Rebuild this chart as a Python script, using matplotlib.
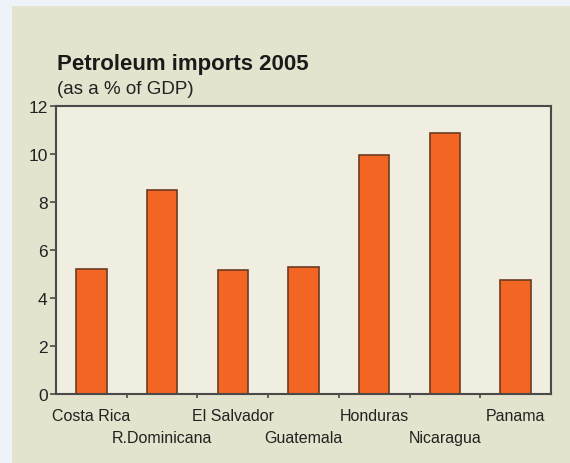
import matplotlib.pyplot as plt
from matplotlib import font_manager
from matplotlib.patches import Rectangle

countries = ["Costa Rica", "R.Dominicana", "El Salvador", "Guatemala",
             "Honduras", "Nicaragua", "Panama"]
imports_pct = [5.2, 8.5, 5.18, 5.28, 9.96, 10.86, 4.76]
y_ticks = [0, 2, 4, 6, 8, 10, 12]

installed = {f.name for f in font_manager.fontManager.ttflist}
family = "Liberation Sans Narrow" if "Liberation Sans Narrow" in installed else "Liberation Sans"
plt.rcParams['font.family'] = [family, 'DejaVu Sans']

fig = plt.figure(figsize=(5.70, 4.64), dpi=100)
fig.patch.set_facecolor("#eef3f7")
# beige panel behind the chart
panel = Rectangle((12 / 570, 0), 1, (464 - 7) / 464, transform=fig.transFigure,
                  facecolor="#e4e3cd", edgecolor="none", zorder=-10)
fig.add_artist(panel)

ax = fig.add_axes([56 / 570, 1 - 395 / 464, (551 - 56) / 570, (395 - 107) / 464])
ax.set_facecolor("#efeee0")

x = list(range(len(countries)))
ax.bar(x, imports_pct, width=0.43, color="#f26522", edgecolor="#6b3b22", linewidth=1.2, zorder=2)

ax.set_xlim(-0.5, len(countries) - 0.5)
ax.set_ylim(0, 12)
ax.set_yticks(y_ticks)
ax.set_yticklabels([str(t) for t in y_ticks], fontsize=12.5, color="#222222")

for s in ax.spines.values():
    s.set_color("#4a4a4a")
    s.set_linewidth(1.5)

ax.tick_params(axis="y", direction="out", length=4, width=1.2, color="#4a4a4a", pad=2)

# ticks between categories, labels staggered on two rows
ax.set_xticks([i + 0.5 for i in x[:-1]], minor=True)
ax.tick_params(axis="x", which="minor", direction="out", length=3, width=1.2, color="#4a4a4a")
ax.set_xticks(x)
ax.set_xticklabels(countries, fontsize=11.5, color="#222222")
ax.tick_params(axis="x", which="major", length=0, pad=10)
for i, lab in enumerate(ax.get_xticklabels()):
    if i % 2 == 1:
        lab.set_y(-0.078)

fig.text(57 / 570, 1 - 70 / 464, "Petroleum imports 2005", fontsize=16, fontweight="bold",
         color="#1a1a1a", ha="left", va="baseline")
fig.text(57 / 570, 1 - 94 / 464, "(as a % of GDP)", fontsize=13.5, color="#222222",
         ha="left", va="baseline")

fig.savefig("out.png", dpi=100, facecolor=fig.get_facecolor())
